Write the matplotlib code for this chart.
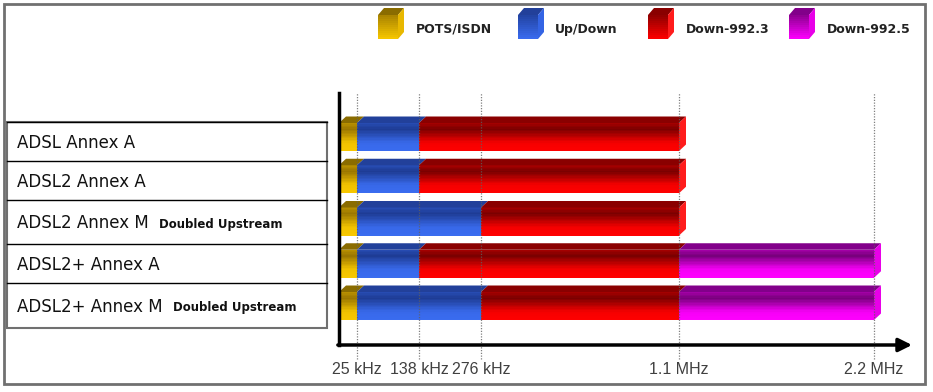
import matplotlib
matplotlib.use("Agg")
import matplotlib.pyplot as plt
from matplotlib.patches import Polygon, Rectangle
import numpy as np

# --- data ---
rows = ["ADSL Annex A", "ADSL2 Annex A", "ADSL2 Annex M", "ADSL2+ Annex A", "ADSL2+ Annex M"]
row_notes = ["", "", "Doubled Upstream", "", "Doubled Upstream"]
bands = ["POTS/ISDN", "Up/Down", "Down-992.3", "Down-992.5"]
# band edges in kHz for each row (POTS, up/down, down 992.3, down 992.5)
pots_end = [25, 25, 25, 25, 25]
updown_end = [138, 138, 276, 138, 276]
down3_end = [1104, 1104, 1104, 1104, 1104]
down5_end = [0, 0, 0, 2208, 2208]
tick_khz = [25, 138, 276, 1104, 2208]
tick_labels = ["25 kHz", "138 kHz", "276 kHz", "1.1 MHz", "2.2 MHz"]

# colours: (dark, bright, top face, side face)
band_colors = [
    ("#9a7600", "#f8c800", "#8a6c00", "#e8b800"),
    ("#1e3c94", "#3a6cf0", "#22409a", "#3464e4"),
    ("#7a0000", "#ff0000", "#8a0000", "#ff1c1c"),
    ("#78007c", "#ff00ff", "#82008a", "#e800e8"),
]

# piecewise axis: kHz -> pixel position along the axis
knot_khz = [0, 25, 138, 276, 1104, 2208, 4416]
knot_pos = [0, 18, 80, 142, 340, 535, 925]


def fwd(f):
    return np.interp(f, knot_khz, knot_pos)


def inv(p):
    return np.interp(p, knot_pos, knot_khz)


W, H = 933, 392
fig = plt.figure(figsize=(W / 100, H / 100), dpi=100)

# overlay in pixel coords for frame, legend and label table
bg = fig.add_axes([0, 0, 1, 1])
bg.set_xlim(0, W)
bg.set_ylim(H, 0)
bg.axis("off")
bg.add_patch(Rectangle((4, 4), 921, 380, fill=False, ec="#707070", lw=2))


def mix(c1, c2, w):
    a = np.array(matplotlib.colors.to_rgb(c1))
    b = np.array(matplotlib.colors.to_rgb(c2))
    return tuple(a + (b - a) * w)


shade_t = [0, 0.22, 0.7, 1]
shade_w = [0.35, 0, 0.92, 1]

# legend cubes
leg_cube_x = [378, 518, 648, 789]
leg_text_x = [416, 555, 686, 827]
for k, name in enumerate(bands):
    dark, bright, topc, side = band_colors[k]
    x0, y0, fw, fh, d = leg_cube_x[k], 15, 20, 24, 6
    n = 12
    for j in range(n):
        t = (j + 0.5) / n
        c = mix(dark, bright, 0.15 + 0.85 * t)
        bg.add_patch(Rectangle((x0, y0 + fh * j / n), fw, fh / n + 0.3, fc=c, ec="none"))
    bg.add_patch(Polygon([(x0, y0), (x0 + fw, y0), (x0 + fw + d, y0 - d - 1), (x0 + d, y0 - d - 1)],
                         closed=True, fc=topc, ec="none"))
    bg.add_patch(Polygon([(x0 + fw, y0), (x0 + fw + d, y0 - d - 1), (x0 + fw + d, y0 + fh - d - 1),
                          (x0 + fw, y0 + fh)], closed=True, fc=side, ec="none"))
    bg.text(leg_text_x[k], 29, name, fontsize=9, fontweight="bold", color="#222222",
            va="center", ha="left")

# label table
row_edges = [122, 161, 200, 244, 283, 328]
bg.add_patch(Rectangle((7, 122), 320, 206, fill=False, ec="#707070", lw=1.5))
for yy in row_edges[:-1]:
    bg.plot([7, 327], [yy, yy], color="black", lw=1)
fig.canvas.draw()
renderer = fig.canvas.get_renderer()
for i, name in enumerate(rows):
    yc = (row_edges[i] + row_edges[i + 1]) / 2 + 1
    t = bg.text(17, yc, name, fontsize=12, color="#111111", va="center", ha="left")
    if row_notes[i]:
        bb = t.get_window_extent(renderer)
        x1 = bb.x1 + 10
        bg.text(x1, yc + 1, row_notes[i], fontsize=8.5, fontweight="bold", color="#111111",
                va="center", ha="left")

# chart axes
ax_l, ax_r, ax_t, ax_b = 339, 912, 93, 345
ax = fig.add_axes([ax_l / W, 1 - ax_b / H, (ax_r - ax_l) / W, (ax_b - ax_t) / H])
ax.patch.set_alpha(0)
ax.set_xscale("function", functions=(fwd, inv))
ax.set_xlim(0, inv(ax_r - ax_l))
row_px = 42.25
ax.set_ylim(4 + (ax_b - 306) / row_px, -(137 - ax_t) / row_px)

bar_h = 28 / row_px
dy = 6.5 / row_px
dpx = 7
n_strips = 20

for i in range(len(rows)):
    edges = [0, pots_end[i], updown_end[i], down3_end[i], down5_end[i]]
    segs = []
    for k in range(4):
        if edges[k + 1] > edges[k]:
            segs.append((edges[k], edges[k + 1], k))
    ytop = i - bar_h / 2
    for s, (a, b, k) in enumerate(segs):
        dark, bright, topc, side = band_colors[k]
        for j in range(n_strips):
            t = (j + 0.5) / n_strips
            c = mix(dark, bright, np.interp(t, shade_t, shade_w))
            ax.barh(ytop + bar_h * (j + 0.5) / n_strips, b - a, left=a,
                    height=bar_h / n_strips * 1.1, color=c, lw=0, zorder=2)
        ax.add_patch(Polygon([(a, ytop), (b, ytop), (inv(fwd(b) + dpx), ytop - dy),
                              (inv(fwd(a) + dpx), ytop - dy)], closed=True,
                             fc=topc, ec="none", zorder=2))
        if s == len(segs) - 1:
            ax.add_patch(Polygon([(b, ytop), (inv(fwd(b) + dpx), ytop - dy),
                                  (inv(fwd(b) + dpx), ytop + bar_h - dy), (b, ytop + bar_h)],
                                 closed=True, fc=side, ec="none", zorder=2))

for f in tick_khz:
    ax.axvline(f, ymin=-0.055, ymax=1, color="#606060", lw=0.9, ls=(0, (1, 1.2)),
               alpha=0.8, zorder=3, clip_on=False)

ax.set_xticks(tick_khz, tick_labels)
ax.set_yticks([])
ax.tick_params(axis="x", length=0, pad=12, labelsize=11.5, labelcolor="#404040")
for lab in ax.get_xticklabels():
    lab.set_fontfamily("Liberation Sans")
for sp in ["top", "right", "bottom"]:
    ax.spines[sp].set_visible(False)
ax.spines["left"].set_linewidth(2.5)
ax.spines["left"].set_color("black")
ax.annotate("", xy=(1, 0), xytext=(-0.002, 0), xycoords="axes fraction",
            arrowprops=dict(arrowstyle="-|>", color="black", lw=2.5, mutation_scale=20,
                            shrinkA=0, shrinkB=0))

fig.savefig("out.png", dpi=100)
